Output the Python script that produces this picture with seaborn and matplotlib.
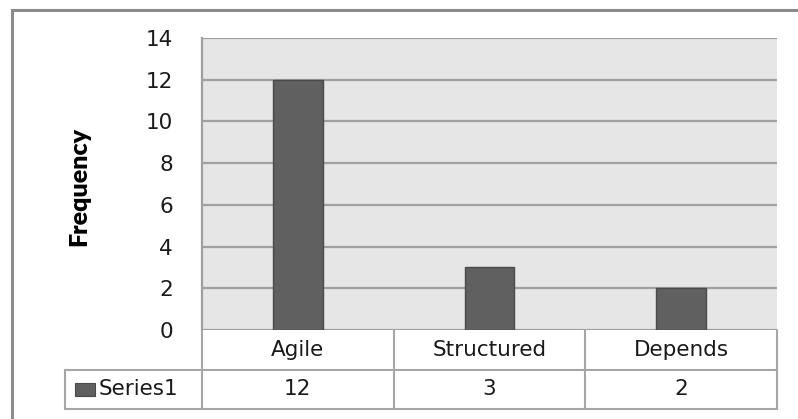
import matplotlib
matplotlib.use("Agg")
import matplotlib.pyplot as plt
from matplotlib.patches import Rectangle
import seaborn as sns
import pandas as pd

categories = ["Agile", "Structured", "Depends"]
values = [12, 3, 2]
series_name = "Series1"
y_label = "Frequency"
y_ticks = [0, 2, 4, 6, 8, 10, 12, 14]

sns.set_theme(style="white")
plt.rcParams["font.family"] = ["DejaVu Sans"]

W, H = 798, 419
fig = plt.figure(figsize=(W / 100, H / 100), dpi=100)
fig.patch.set_facecolor("white")

def px_rect(left, top, right, bottom):
    return [left / W, 1 - bottom / H, (right - left) / W, (bottom - top) / H]

text_size = 15.5
text_color = "#1a1a1a"

# Plot area
pl, pt, pr, pb = 202, 38, 777, 330
ax = fig.add_axes(px_rect(pl, pt, pr, pb))
ax.set_facecolor("#e6e6e6")

df = pd.DataFrame({"category": categories, "value": values})
bar_color = "#606060"
sns.barplot(data=df, x="category", y="value", color=bar_color, width=0.26,
            edgecolor="#4a4a4a", linewidth=1.0, saturation=1, ax=ax, zorder=3)

ax.set_xlim(-0.5, len(categories) - 0.5)
ax.set_ylim(0, 14)
ax.set_yticks(y_ticks)
ax.set_yticklabels([str(t) for t in y_ticks], fontsize=text_size, color=text_color)
ax.set_xticks([])
ax.set_xlabel("")
ax.yaxis.grid(True, color="#a0a0a0", linewidth=1.6, zorder=1)
ax.set_axisbelow(True)
ax.tick_params(axis="y", length=0, pad=21)
for side in ["top", "right", "bottom"]:
    ax.spines[side].set_visible(False)
ax.spines["left"].set_color("#a0a0a0")
ax.spines["left"].set_linewidth(1.6)

ax.set_ylabel("")
fig.text((90 - 0) / W, 1 - 186 / H, y_label, rotation=90, ha="right", va="center",
         family="Lato", fontweight="heavy", fontsize=18, color="black")

# Data table below the plot area
tl, tt, tr, tb = 65, 330, 777, 409
tax = fig.add_axes(px_rect(tl, tt, tr, tb))
unit = (pr - pl) / len(categories)
left_x = -0.5 - (pl - tl) / unit
tax.set_xlim(left_x, len(categories) - 0.5)
tax.set_ylim(0, 2)
tax.axis("off")

lc, lw = "#a6a6a6", 1.5
tax.plot([left_x, len(categories) - 0.5], [0, 0], color=lc, lw=lw, clip_on=False)
tax.plot([left_x, len(categories) - 0.5], [1, 1], color=lc, lw=lw, clip_on=False)
tax.plot([left_x, left_x], [0, 1], color=lc, lw=lw, clip_on=False)
for i in range(len(categories) + 1):
    tax.plot([i - 0.5, i - 0.5], [0, 2], color=lc, lw=lw, clip_on=False)

for i, (c, v) in enumerate(zip(categories, values)):
    tax.text(i, 1.5, c, ha="center", va="center", fontsize=text_size, color=text_color)
    tax.text(i, 0.5, str(v), ha="center", va="center", fontsize=text_size, color=text_color)

# Legend key and series name in the first column
row_h = (tb - tt) / 2
tax.add_patch(Rectangle((left_x + 10 / unit, 0.5 - 6.5 / row_h), 20 / unit, 13 / row_h,
                        facecolor=bar_color, edgecolor="#4a4a4a", lw=0.8,
                        clip_on=False))
tax.text(left_x + 34 / unit, 0.5, series_name, ha="left", va="center",
         fontsize=text_size, color=text_color)

# Chart frame: only its top and left edges fall inside the canvas
fig.patches.append(Rectangle((11.5 / W, -0.2), 1.2, 1.2 - 9.5 / H,
                             transform=fig.transFigure, fill=False,
                             edgecolor="#8c8c8c", lw=2.2))

fig.savefig("out.png", dpi=100)
